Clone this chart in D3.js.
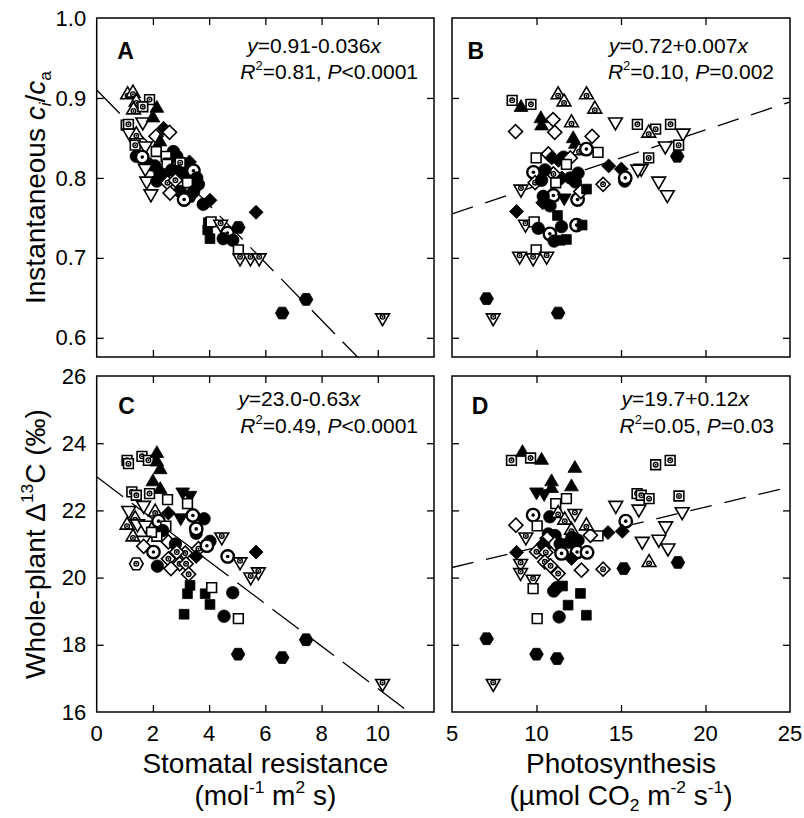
<!DOCTYPE html>
<html>
<head>
<meta charset="utf-8">
<script src="https://cdn.jsdelivr.net/npm/d3@7"></script>
<style>
  body { margin: 0; background: #fff; }
  svg { display: block; }
  text { font-family: "Liberation Sans", Arial, Helvetica, sans-serif; fill: #000; }
</style>
</head>
<body>
<svg id="chart" width="804" height="818"></svg>
<script>
/* =======================================================================
   Stomatal resistance / photosynthesis vs ci/ca and whole-plant D13C
   ======================================================================= */

/* Data
   Each point: [x, y, marker]. Marker code = fill style + shape
   fill: f = filled, o = open, d = open with centre dot
   shape: c circle, s square, u triangle up, v triangle down, k diamond, h hexagon
======================================================================= */
var pointsA = [ // stomatal resistance vs ci/ca
  [1.10,0.904,'du'],[1.29,0.906,'du'],[1.41,0.895,'du'],[1.88,0.898,'ds'],[1.31,0.885,'du'],
  [1.64,0.889,'ds'],[2.14,0.887,'fu'],[1.05,0.866,'ds'],[1.13,0.867,'ds'],[1.64,0.870,'ov'],
  [2.00,0.875,'fu'],[2.38,0.862,'fk'],[2.59,0.857,'ok'],[2.11,0.852,'ok'],[1.17,0.856,'ov'],
  [1.41,0.854,'du'],[1.37,0.841,'ds'],[1.73,0.840,'ov'],[2.25,0.845,'fu'],[2.12,0.833,'os'],
  [2.73,0.833,'fc'],[2.85,0.827,'fc'],[2.47,0.827,'os'],[1.41,0.827,'fc'],[1.62,0.826,'dc'],
  [2.60,0.820,'fv'],[3.30,0.820,'fk'],[2.50,0.817,'os'],[1.90,0.817,'fk'],[2.07,0.815,'fc'],
  [1.73,0.812,'ov'],[3.08,0.817,'fv'],[2.97,0.819,'ds'],[2.67,0.810,'fc'],[2.90,0.808,'fc'],
  [3.20,0.806,'fc'],[2.25,0.806,'fc'],[3.44,0.809,'dc'],[3.56,0.800,'fc'],[3.00,0.800,'fu'],
  [2.40,0.800,'fv'],[1.78,0.796,'ov'],[2.14,0.796,'fc'],[2.52,0.794,'dk'],[2.80,0.797,'dk'],
  [3.62,0.792,'fc'],[3.23,0.794,'os'],[3.45,0.783,'fc'],[2.97,0.783,'fc'],[2.61,0.781,'ok'],
  [1.93,0.780,'ov'],[3.32,0.777,'fh'],[3.11,0.773,'dc'],[4.03,0.772,'fk'],[3.79,0.767,'fc'],
  [5.67,0.757,'fk'],[3.97,0.744,'fs'],[3.95,0.735,'fs'],[4.07,0.745,'os'],[4.41,0.742,'dv'],
  [5.04,0.738,'fh'],[4.65,0.731,'dc'],[4.50,0.724,'fc'],[4.84,0.722,'fc'],[4.03,0.724,'fs'],
  [5.04,0.710,'os'],[5.10,0.700,'dv'],[5.47,0.700,'dv'],[5.78,0.700,'dv'],[6.60,0.631,'fh'],
  [7.45,0.648,'fh'],[10.17,0.625,'dv']
];

var pointsB = [ // photosynthesis vs ci/ca
  [8.56,0.897,'ds'],[9.67,0.892,'ds'],[9.08,0.888,'fu'],[11.28,0.904,'du'],[12.96,0.904,'du'],
  [11.63,0.895,'du'],[13.45,0.886,'du'],[10.26,0.874,'fu'],[10.30,0.865,'fu'],[10.98,0.873,'ok'],
  [11.08,0.857,'ok'],[8.76,0.858,'ok'],[12.07,0.869,'du'],[14.67,0.870,'ov'],[15.97,0.867,'ds'],
  [17.05,0.861,'ds'],[16.64,0.856,'du'],[17.93,0.867,'ds'],[18.67,0.856,'ov'],[17.62,0.840,'ov'],
  [18.41,0.841,'ds'],[18.33,0.827,'fh'],[16.64,0.825,'ds'],[16.20,0.812,'ov'],[16.00,0.811,'ov'],
  [17.23,0.796,'ov'],[17.74,0.779,'ov'],[14.27,0.815,'fk'],[15.02,0.811,'fk'],[15.22,0.796,'fc'],
  [15.25,0.800,'dc'],[13.94,0.792,'dk'],[13.29,0.852,'ok'],[12.17,0.849,'fu'],[12.30,0.842,'fu'],
  [12.52,0.834,'du'],[12.95,0.836,'dc'],[13.64,0.832,'os'],[9.98,0.825,'os'],[10.70,0.830,'ok'],
  [10.90,0.825,'fk'],[11.30,0.822,'fk'],[11.60,0.826,'fc'],[12.00,0.825,'ok'],[11.77,0.817,'os'],
  [9.82,0.807,'dc'],[9.92,0.794,'dk'],[9.08,0.786,'dv'],[12.46,0.806,'fc'],[12.00,0.800,'fc'],
  [12.30,0.795,'fc'],[11.50,0.800,'fk'],[11.00,0.805,'dk'],[10.50,0.810,'fc'],[10.30,0.797,'fc'],
  [11.14,0.794,'os'],[11.00,0.778,'dc'],[11.64,0.775,'fv'],[12.43,0.773,'dc'],[12.62,0.783,'ok'],
  [12.96,0.786,'fs'],[10.40,0.777,'fc'],[10.37,0.769,'fk'],[10.80,0.765,'fc'],[8.82,0.758,'fk'],
  [11.24,0.753,'fs'],[9.35,0.742,'dv'],[9.86,0.745,'os'],[10.10,0.737,'fc'],[11.48,0.739,'fc'],
  [10.79,0.730,'dc'],[12.37,0.741,'dc'],[12.70,0.741,'fs'],[11.04,0.721,'fc'],[11.77,0.723,'fs'],
  [11.40,0.722,'fs'],[9.98,0.710,'os'],[9.00,0.702,'dv'],[9.80,0.700,'dv'],[10.60,0.702,'dv'],
  [7.05,0.649,'fh'],[7.44,0.625,'dv'],[11.28,0.631,'fh']
];

var pointsC = [ // stomatal resistance vs whole-plant D13C
  [1.08,23.49,'ds'],[1.13,23.39,'ds'],[1.61,23.61,'ds'],[1.84,23.49,'ds'],[2.14,23.69,'fu'],
  [2.14,23.44,'fu'],[2.26,23.21,'fu'],[2.00,22.85,'fu'],[2.26,22.62,'fu'],[1.25,22.55,'ds'],
  [1.41,22.45,'ds'],[1.88,22.50,'ds'],[2.52,22.32,'os'],[3.06,22.55,'fv'],[3.32,22.45,'fv'],
  [3.23,22.20,'os'],[1.14,22.00,'ov'],[1.67,22.15,'ov'],[1.37,21.75,'du'],[1.08,21.56,'du'],
  [1.45,21.60,'ov'],[1.73,21.56,'ov'],[2.08,21.95,'du'],[2.55,21.92,'fk'],[2.99,21.78,'fv'],
  [3.42,21.85,'dc'],[3.82,21.75,'fc'],[2.20,21.68,'dc'],[2.46,21.53,'os'],[3.54,21.32,'fc'],
  [3.54,21.45,'dc'],[2.35,21.40,'fc'],[1.29,21.21,'du'],[2.14,21.23,'os'],[1.95,21.35,'os'],
  [1.67,21.11,'ov'],[1.67,20.93,'ok'],[2.02,20.76,'dc'],[2.55,21.06,'ok'],[2.80,21.00,'fc'],
  [4.03,21.08,'fc'],[4.45,21.21,'dv'],[3.15,20.73,'dk'],[3.62,20.86,'dk'],[3.54,20.63,'fk'],
  [2.85,20.76,'dk'],[2.55,20.56,'dk'],[2.95,20.41,'dk'],[3.18,20.41,'dk'],[3.27,20.10,'dk'],
  [2.64,20.27,'ok'],[3.92,20.95,'dc'],[1.41,20.41,'dh'],[2.16,20.34,'fc'],[4.66,20.63,'dc'],
  [5.10,20.47,'dv'],[5.67,20.76,'fk'],[5.75,20.17,'dv'],[5.48,20.02,'dv'],[3.32,19.77,'fs'],
  [3.23,19.52,'fs'],[3.86,19.52,'fs'],[4.09,19.70,'os'],[4.03,19.20,'fs'],[4.84,19.55,'fc'],
  [3.11,18.91,'fs'],[4.53,18.85,'fc'],[5.04,18.78,'os'],[5.03,17.72,'fh'],[6.60,17.62,'fh'],
  [7.45,18.15,'fh'],[10.17,16.85,'dv']
];

var pointsD = [ // photosynthesis vs whole-plant D13C
  [8.52,23.49,'ds'],[9.17,23.72,'fu'],[9.65,23.56,'ds'],[10.30,23.49,'fu'],[12.27,23.25,'fu'],
  [10.89,22.85,'fu'],[10.00,22.55,'fv'],[10.45,22.50,'fv'],[10.89,22.65,'fu'],[12.07,22.70,'fu'],
  [11.77,22.35,'os'],[11.14,22.20,'os'],[17.05,23.36,'ds'],[17.91,23.49,'ds'],[15.95,22.50,'ds'],
  [16.20,22.45,'ds'],[16.66,22.35,'ds'],[18.43,22.43,'ds'],[14.69,22.15,'ov'],[16.06,22.04,'ov'],
  [18.62,21.96,'ov'],[17.64,21.54,'ov'],[16.26,21.08,'ov'],[17.24,21.14,'ov'],[17.78,20.88,'ov'],
  [15.28,21.68,'dc'],[14.23,21.34,'fk'],[15.08,21.38,'fk'],[13.64,21.24,'os'],[13.19,21.26,'ok'],
  [12.95,21.54,'du'],[12.07,21.41,'du'],[9.80,21.86,'dc'],[10.79,21.81,'fc'],[11.28,21.91,'du'],
  [12.27,21.91,'dv'],[11.67,21.71,'du'],[8.78,21.56,'ok'],[10.04,21.54,'os'],[9.37,21.21,'dv'],
  [10.70,21.30,'fc'],[11.10,21.25,'fc'],[12.10,21.20,'fc'],[10.63,21.16,'ok'],[11.08,21.01,'ok'],
  [11.40,21.00,'fc'],[10.40,21.00,'fk'],[11.95,21.05,'fc'],[12.46,21.11,'fc'],[12.40,20.76,'dc'],
  [12.99,20.75,'dc'],[11.48,20.72,'dc'],[12.07,20.57,'fk'],[8.82,20.75,'fk'],[10.00,20.77,'dk'],
  [10.50,20.90,'fk'],[10.55,20.75,'dk'],[9.06,20.42,'dv'],[9.06,20.15,'dv'],[10.49,20.47,'dk'],
  [10.83,20.35,'dk'],[11.28,20.12,'dk'],[12.66,20.22,'ok'],[13.94,20.25,'dk'],[15.16,20.27,'fh'],
  [16.66,20.45,'du'],[18.37,20.45,'fh'],[9.80,19.95,'dv'],[9.80,19.67,'os'],[11.02,19.60,'fc'],
  [11.20,19.70,'fc'],[11.54,19.75,'fs'],[12.60,19.53,'fs'],[11.87,19.18,'fs'],[12.95,18.88,'fs'],
  [11.34,18.83,'fc'],[10.04,18.78,'os'],[7.05,18.18,'fh'],[10.00,17.72,'fh'],[11.22,17.59,'fh'],
  [7.44,16.85,'dv']
];

// Regression lines (intercept, slope) and their printed statistics
var panelLetters = ['A', 'B', 'C', 'D'];
var intercepts = [0.91, 0.72, 23.0, 19.7];
var slopes = [-0.036, 0.007, -0.63, 0.12];
var eqTexts = ['0.91-0.036', '0.72+0.007', '23.0-0.63', '19.7+0.12'];
var r2Texts = ['=0.81, ', '=0.10, ', '=0.49, ', '=0.05, '];
var pTexts = ['<0.0001', '=0.002', '<0.0001', '=0.03'];

// Axis ticks
var resTicks = [0, 2, 4, 6, 8, 10];
var phoTicks = [5, 10, 15, 20, 25];
var ciTicks = [0.6, 0.7, 0.8, 0.9, 1.0];
var d13Ticks = [16, 18, 20, 22, 24, 26];

/* Layout
======================================================================= */
var svg = d3.select('#chart'),
    colX = [[96.7, 434], [452, 790]], // left/right edges of the two columns
    rowY = [[18, 357], [376, 712]], // top/bottom edges of the two rows
    tickLen = 7;

var xRes = d3.scaleLinear().domain([0, 12]).range(colX[0]),
    xPho = d3.scaleLinear().domain([5, 25]).range(colX[1]),
    yCi = d3.scaleLinear().domain([0.576, 1.0]).range([rowY[0][1], rowY[0][0]]),
    yD13 = d3.scaleLinear().domain([16, 26]).range([rowY[1][1], rowY[1][0]]);

// Per panel: scales, ticks, dash pattern and small text offsets
var panels = [
  { data: pointsA, x: xRes, y: yCi, xt: resTicks, yt: ciTicks, col: 0, row: 0, dash: '33,11', letterDx: 20.6, eqDx: 7 },
  { data: pointsB, x: xPho, y: yCi, xt: phoTicks, yt: ciTicks, col: 1, row: 0, dash: '22,13', letterDx: 15.5, eqDx: 1 },
  { data: pointsC, x: xRes, y: yD13, xt: resTicks, yt: d13Ticks, col: 0, row: 1, dash: '33,11', letterDx: 21.6, eqDx: -2 },
  { data: pointsD, x: xPho, y: yD13, xt: phoTicks, yt: d13Ticks, col: 1, row: 1, dash: '22,13', letterDx: 19.7, eqDx: 2 }
];
var letterDy = [40.5, 37.5], // baseline of panel letter below the top edge, per row
    eqDy = [[35, 61], [30, 56.5]]; // baselines of the two statistics lines, per row

/* Helpers
======================================================================= */

// Append text made of plain / italic / superscript / subscript pieces
function rich(sel, parts, size) {
  var shift = 0;
  parts.forEach(function(p) {
    var t = sel.append('tspan').text(p[0]),
        target = 0;
    if (p[1] === 'sup') { target = -size * 0.42; t.attr('font-size', size * 0.62); }
    if (p[1] === 'sub') { target = size * 0.22; t.attr('font-size', size * 0.62); }
    if (p[1] === 'i' || p[2] === 'i') t.attr('font-style', 'italic');
    if (target !== shift) { t.attr('dy', target - shift); shift = target; }
  });
}

// Hexagon path of radius r
function hexPath(r) {
  var pts = d3.range(6).map(function(i) {
    var a = Math.PI / 3 * i;
    return [r * Math.cos(a), r * Math.sin(a)];
  });
  return 'M' + pts.join('L') + 'Z';
}

var shapes = {
  c: { path: d3.symbol(d3.symbolCircle, 122)(), rot: 0 },
  s: { path: d3.symbol(d3.symbolSquare, 95)(), rot: 0 },
  u: { path: d3.symbol(d3.symbolTriangle, 82)(), rot: 0 },
  v: { path: d3.symbol(d3.symbolTriangle, 82)(), rot: 180 },
  k: { path: d3.symbol(d3.symbolSquare, 98)(), rot: 45 },
  h: { path: hexPath(6.8), rot: 0 }
};

// Draw one marker into group g
function drawMarker(g, code) {
  var fill = code[0], sh = shapes[code[1]];
  var outer = g.append('path')
    .attr('d', sh.path)
    .attr('transform', sh.rot ? 'rotate(' + sh.rot + ')' : null)
    .attr('stroke', '#000');

  if (fill === 'f') {
    outer.attr('fill', '#000').attr('stroke-width', 0.8);
    if (code[1] === 'h') return;
  } else {
    outer.attr('fill', '#fff').attr('stroke-width', code === 'dc' ? 2.4 : 1.6);
  }
  if (fill === 'd') {
    var cy = code[1] === 'u' ? 1 : code[1] === 'v' ? -1 : 0;
    if (code !== 'dc') {
      g.append('circle').attr('cy', cy).attr('r', 2.3)
        .attr('fill', '#fff').attr('stroke', '#000').attr('stroke-width', 1.4);
    }
    g.append('circle').attr('cy', cy).attr('r', code === 'dc' ? 1.8 : 1).attr('fill', '#000');
  }
}

/* Draw panels
======================================================================= */
panels.forEach(function(p, i) {
  var x0 = colX[p.col][0], x1 = colX[p.col][1],
      y0 = rowY[p.row][0], y1 = rowY[p.row][1];

  var g = svg.append('g');

  // Clip path for the regression line
  svg.append('clipPath').attr('id', 'clip' + i)
    .append('rect').attr('x', x0).attr('y', y0).attr('width', x1 - x0).attr('height', y1 - y0);

  // Inward ticks on all four sides
  var inner = function(v, dom) { return v > dom[0] && v < dom[1]; };
  var xIn = p.xt.filter(function(v) { return inner(v, p.x.domain()); }),
      yIn = p.yt.filter(function(v) { return inner(v, p.y.domain()); });

  g.append('g').attr('transform', 'translate(0,' + y1 + ')')
    .call(d3.axisBottom(p.x).tickValues(xIn).tickSize(-tickLen).tickFormat(''));
  g.append('g').attr('transform', 'translate(0,' + y0 + ')')
    .call(d3.axisTop(p.x).tickValues(xIn).tickSize(-tickLen).tickFormat(''));
  g.append('g').attr('transform', 'translate(' + x0 + ',0)')
    .call(d3.axisLeft(p.y).tickValues(yIn).tickSize(-tickLen).tickFormat(''));
  g.append('g').attr('transform', 'translate(' + x1 + ',0)')
    .call(d3.axisRight(p.y).tickValues(yIn).tickSize(-tickLen).tickFormat(''));
  g.selectAll('.domain').remove();
  g.selectAll('.tick line').attr('stroke', '#000').attr('stroke-width', 1.3);

  // Tick labels: x only on the bottom row, y only on the left column
  if (p.row === 1) {
    g.selectAll('.xlab').data(p.xt).enter().append('text')
      .attr('x', function(d) { return p.x(d); })
      .attr('y', y1 + 28.5)
      .attr('text-anchor', 'middle')
      .attr('font-size', 22)
      .text(function(d) { return d; });
  }
  if (p.col === 0) {
    var fmt = p.row === 0 ? d3.format('.1f') : d3.format('d');
    g.selectAll('.ylab').data(p.yt).enter().append('text')
      .attr('x', x0 - 10.5)
      .attr('y', function(d) { return p.y(d) + 7.6; })
      .attr('text-anchor', 'end')
      .attr('font-size', 22)
      .text(fmt);
  }

  // Regression line, dashed
  var dom = p.x.domain();
  g.append('line')
    .attr('clip-path', 'url(#clip' + i + ')')
    .attr('x1', p.x(dom[0])).attr('y1', p.y(intercepts[i] + slopes[i] * dom[0]))
    .attr('x2', p.x(dom[1])).attr('y2', p.y(intercepts[i] + slopes[i] * dom[1]))
    .attr('stroke', '#000').attr('stroke-width', 1.3)
    .attr('stroke-dasharray', p.dash);

  // Markers
  g.selectAll('.pt').data(p.data).enter().append('g')
    .attr('transform', function(d) { return 'translate(' + p.x(d[0]) + ',' + p.y(d[1]) + ')'; })
    .each(function(d) { drawMarker(d3.select(this), d[2]); });

  // Panel frame
  g.append('rect')
    .attr('x', x0).attr('y', y0).attr('width', x1 - x0).attr('height', y1 - y0)
    .attr('fill', 'none').attr('stroke', '#000').attr('stroke-width', 1.5);

  // Panel letter
  g.append('text')
    .attr('x', x0 + p.letterDx).attr('y', y0 + letterDy[p.row])
    .attr('font-size', 23).attr('font-weight', 'bold')
    .text(panelLetters[i]);

  // Regression statistics, left aligned, second line ends near the right edge
  var line2 = g.append('text').attr('y', y0 + eqDy[p.row][1]).attr('font-size', 21);
  rich(line2, [['R', 'i'], ['2', 'sup'], [r2Texts[i]], ['P', 'i'], [pTexts[i]]], 21);
  var startX = x1 - 16 - line2.node().getComputedTextLength();
  line2.attr('x', startX);

  var line1 = g.append('text').attr('x', startX + p.eqDx).attr('y', y0 + eqDy[p.row][0]).attr('font-size', 21);
  rich(line1, [['y', 'i'], ['=' + eqTexts[i]], ['x', 'i']], 21);
});

/* Axis titles
======================================================================= */
var midA = (colX[0][0] + colX[0][1]) / 2,
    midB = (colX[1][0] + colX[1][1]) / 2;

rich(svg.append('text').attr('x', midA).attr('y', 773).attr('text-anchor', 'middle').attr('font-size', 28),
  [['Stomatal resistance']], 28);
rich(svg.append('text').attr('x', midA).attr('y', 805).attr('text-anchor', 'middle').attr('font-size', 28),
  [['(mol'], ['-1', 'sup'], [' m'], ['2', 'sup'], [' s)']], 28);

rich(svg.append('text').attr('x', midB).attr('y', 773).attr('text-anchor', 'middle').attr('font-size', 28),
  [['Photosynthesis']], 28);
rich(svg.append('text').attr('x', midB).attr('y', 805).attr('text-anchor', 'middle').attr('font-size', 28),
  [['(\u00b5mol CO'], ['2', 'sub'], [' m'], ['-2', 'sup'], [' s'], ['-1', 'sup'], [')']], 28);

rich(svg.append('text')
    .attr('transform', 'translate(45,' + (rowY[0][0] + rowY[0][1]) / 2 + ') rotate(-90)')
    .attr('text-anchor', 'middle').attr('font-size', 28),
  [['Instantaneous '], ['c', 'i'], ['i', 'sub', 'i'], ['/'], ['c', 'i'], ['a', 'sub']], 28);

rich(svg.append('text')
    .attr('transform', 'translate(45,' + (rowY[1][0] + rowY[1][1]) / 2 + ') rotate(-90)')
    .attr('text-anchor', 'middle').attr('font-size', 28),
  [['Whole-plant \u0394'], ['13', 'sup'], ['C (\u2030)']], 28);
</script>
</body>
</html>
